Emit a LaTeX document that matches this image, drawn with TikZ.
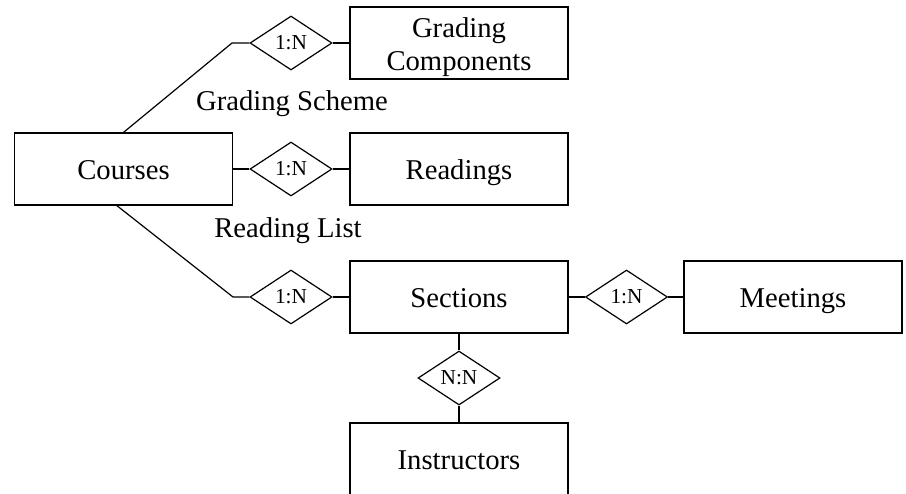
\documentclass[tikz,border=0pt]{standalone}
\usepackage{fontspec}
\setmainfont{Liberation Serif}
\usetikzlibrary{shapes.geometric}

\begin{document}
\begin{tikzpicture}[x=0.75pt,y=-0.75pt,line width=0.9pt]
\useasboundingbox (0,0) rectangle (906,493);

\begin{scope}[every node/.style={rectangle,draw,align=center,
              minimum width=163.5pt,minimum height=54pt,
              text height=16pt,text depth=1pt,
              font=\fontsize{21.5}{25}\selectfont}]
\node (courses) at (123.5,169) {Courses};
\node [text height={},text depth={},inner ysep=0pt] (gradcomp) at (459,43)
  {\rule{0pt}{20.7pt}Grading\\Components};
\node (readings) at (459,169) {Readings};
\node (sections) at (459,297) {Sections};
\node (meetings) at (793,297) {Meetings};
\node (instructors) at (459,459) {Instructors};
\end{scope}

\begin{scope}[every node/.style={diamond,draw,inner sep=0pt,
              minimum width=61.5pt,minimum height=40.5pt,
              font=\fontsize{16}{18}\selectfont}]
\node (gsrel) at (291,43) {1:N};
\node (rlrel) at (291,169) {1:N};
\node (secrel) at (291,297) {1:N};
\node (meetrel) at (626.5,297) {1:N};
\node (instrel) at (459,378) {N:N};
\end{scope}

\begin{scope}[every node/.style={font=\fontsize{21.5}{26}\selectfont}]
\node (gslabel) at (292,104) {Grading Scheme};
\node (rllabel) at (288,231) {Reading List};
\end{scope}

\coordinate (gsbend) at (232,43);
\coordinate (secbend) at (233,297);

\draw (courses.north) -- (gsbend) -- (gsrel.west);
\draw (gsrel) -- (gradcomp);
\draw (courses) -- (rlrel) -- (readings);
\draw ([xshift=-5pt]courses.south) -- (secbend) -- (secrel.west);
\draw (secrel) -- (sections);
\draw (sections) -- (meetrel) -- (meetings);
\draw (sections) -- (instrel) -- (instructors);
\end{tikzpicture}
\end{document}
